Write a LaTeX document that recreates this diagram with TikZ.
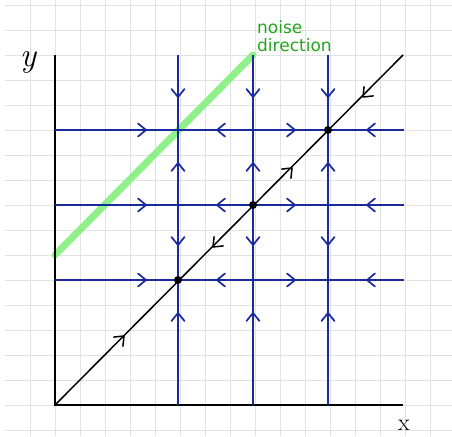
\documentclass[tikz,border=0pt]{standalone}
\usepackage{fontspec}
\newfontfamily\notefont{DejaVu Sans}
\definecolor{flowblue}{HTML}{1A2A9E}
\definecolor{noisegreen}{HTML}{84F07E}
\definecolor{textgreen}{HTML}{22A61E}
\definecolor{gridgray}{HTML}{E2E2E2}
\tikzset{
  gridline/.style={draw=gridgray, line width=1pt},
  axisline/.style={draw=black, line width=2pt},
  flowline/.style={draw=flowblue, line width=2pt},
  diagline/.style={draw=black, line width=1.5pt},
  noiseline/.style={draw=noisegreen, line width=7pt, line cap=round, opacity=0.9},
  fixdot/.style={circle, fill=black, inner sep=0pt, minimum size=8pt},
  chevblue/.style={draw=flowblue, line width=1.7pt},
  chevblack/.style={draw=black, line width=1.5pt},
  pics/chev/.style={code={\draw[pic actions, line cap=round, line join=round] (-8pt,-6.5pt) -- (0pt,0pt) -- (-8pt,6.5pt);}},
  lbl/.style={inner sep=0pt, anchor=center}
}
\begin{document}
\begin{tikzpicture}[x=1pt,y=-1pt]
\useasboundingbox (0,0) rectangle (452,436);
\fill[white] (0,0) rectangle (452,436);
% grid
\foreach \gy in {5,30,...,430} \draw[gridline] (5,\gy+0.5) -- (452,\gy+0.5);
\foreach \gx in {30,55,...,430} \draw[gridline] (\gx+0.5,0) -- (\gx+0.5,436);
% noise direction
\coordinate (n1) at (55,255);
\coordinate (n2) at (253,55);
\draw[noiseline] (n1) -- (n2);
% axes
\coordinate (O) at (55,405);
\coordinate (ytop) at (55,55);
\coordinate (xend) at (403,405);
\draw[axisline] (ytop) -- (O) -- (xend);
% flow lines
\foreach \ly in {130,205,280} {
  \draw[flowline] (55,\ly) -- (404,\ly);
  \pic[chevblue] at (146,\ly) {chev};
  \pic[chevblue, rotate=180] at (217,\ly) {chev};
  \pic[chevblue] at (295,\ly) {chev};
  \pic[chevblue, rotate=180] at (367,\ly) {chev};
}
\foreach \lx in {178,253,328} {
  \draw[flowline] (\lx,55) -- (\lx,405);
  \pic[chevblue, rotate=270] at (\lx,97) {chev};
  \pic[chevblue, rotate=90] at (\lx,163) {chev};
  \pic[chevblue, rotate=270] at (\lx,245) {chev};
  \pic[chevblue, rotate=90] at (\lx,313) {chev};
}
% diagonal
\coordinate (dend) at (403,55);
\draw[diagline] (O) -- (dend);
\pic[chevblack, rotate=45] at (124,336) {chev};
\pic[chevblack, rotate=45] at (292,168) {chev};
\pic[chevblack, rotate=225] at (213,247) {chev};
\pic[chevblack, rotate=225] at (363,97) {chev};
% fixed points
\node[fixdot] (p1) at (178,280) {};
\node[fixdot] (p2) at (253,205) {};
\node[fixdot] (p3) at (328,130) {};
% labels
\node[lbl, font=\fontsize{34}{34}\selectfont\itshape] (ylab) at (28,62) {y};
\node[lbl, font=\fontsize{24}{24}\selectfont] (xlab) at (404,425) {x};
\node[anchor=north west, inner sep=0pt, align=left, text=textgreen, font=\notefont\fontsize{17}{18}\selectfont] (note) at (257,20) {noise\\direction};
\end{tikzpicture}
\end{document}
